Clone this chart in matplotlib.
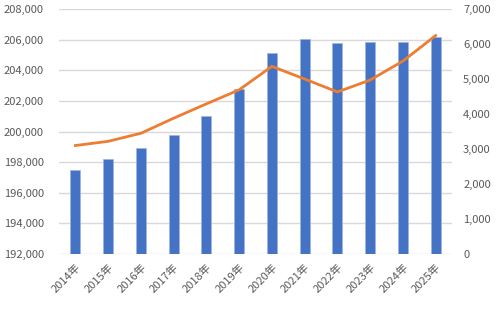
import matplotlib
matplotlib.use("Agg")
import matplotlib.pyplot as plt
from matplotlib.ticker import FuncFormatter

plt.rcParams['font.family'] = ['Noto Sans CJK JP', 'DejaVu Sans']

years = ["2014年", "2015年", "2016年", "2017年", "2018年", "2019年",
         "2020年", "2021年", "2022年", "2023年", "2024年", "2025年"]
bar_vals = [197500, 198200, 198950, 199760, 201020, 202770,
            205100, 206030, 205770, 205840, 205840, 206200]
line_vals = [3100, 3220, 3450, 3880, 4290, 4690,
             5360, 5000, 4630, 4970, 5510, 6240]

fig = plt.figure(figsize=(5, 3.2), dpi=100)
ax = fig.add_axes([0.118, 0.206, 0.786, 0.766])
ax2 = ax.twinx()

x = list(range(len(years)))
ax.bar(x, bar_vals, width=0.31, color="#4472C4", edgecolor="#9DB4E0",
       linewidth=0.5, zorder=3)
ax.set_ylim(192000, 208000)
ax.set_yticks(range(192000, 208001, 2000))
ax.set_xlim(-0.5, len(years) - 0.5)
ax.yaxis.grid(True, color="#D9D9D9", linewidth=1, zorder=0)
ax.set_axisbelow(True)

ax2.plot(x, line_vals, color="#ED7D31", linewidth=2, zorder=4)
ax2.set_ylim(0, 7000)
ax2.set_yticks(range(0, 7001, 1000))

fmt = FuncFormatter(lambda v, p: f"{int(v):,}")
ax.yaxis.set_major_formatter(fmt)
ax2.yaxis.set_major_formatter(fmt)

ax.set_xticks(x)
ax.set_xticklabels(years, rotation=45, ha="right", rotation_mode="anchor")

for a in (ax, ax2):
    for s in a.spines.values():
        s.set_visible(False)
    a.tick_params(length=0, labelsize=8, colors="#595959")
ax.tick_params(axis="y", pad=11)
ax2.tick_params(axis="y", pad=8)
ax.tick_params(axis="x", pad=6)

fig.savefig("out.png", dpi=100)
